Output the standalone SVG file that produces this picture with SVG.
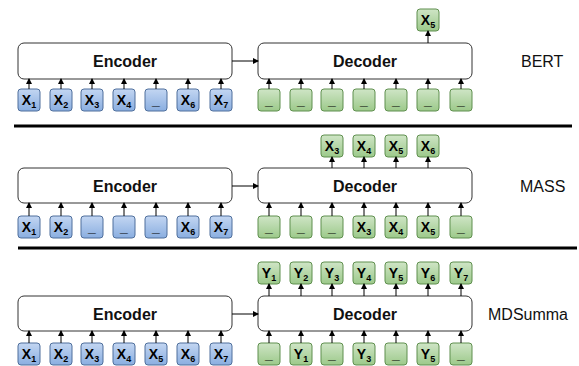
<svg xmlns="http://www.w3.org/2000/svg" width="579" height="366" viewBox="0 0 579 366">
<defs>
<linearGradient id="gb" x1="0" y1="0" x2="0" y2="1"><stop offset="0" stop-color="#c3d6f2"/><stop offset="1" stop-color="#8aaee0"/></linearGradient>
<linearGradient id="gg" x1="0" y1="0" x2="0" y2="1"><stop offset="0" stop-color="#cfe5c6"/><stop offset="1" stop-color="#9cc98a"/></linearGradient>
<marker id="ah" markerWidth="6" markerHeight="6" refX="5" refY="3" orient="auto" markerUnits="userSpaceOnUse"><path d="M0,0 L6,3 L0,6 Z" fill="#000"/></marker>
</defs>
<style>
.box{fill:#fff;stroke:#333;stroke-width:1}
.tb{fill:url(#gb);stroke:#4f6f9c;stroke-width:1}
.tg{fill:url(#gg);stroke:#5f8f4e;stroke-width:1}
.bt{font-family:"Liberation Sans",Arial,sans-serif;font-size:16px;font-weight:bold;text-anchor:middle;fill:#111}
.tk{font-family:"Liberation Sans",Arial,sans-serif;font-size:14px;font-weight:bold;text-anchor:middle;fill:#000}
.sub{font-size:9px}
.lb{font-family:"Liberation Sans",Arial,sans-serif;font-size:16px;fill:#111}
.c{stroke:#000;stroke-width:1;fill:none;marker-end:url(#ah)}
.div{stroke:#000;stroke-width:3}
</style>
<line class="div" x1="14" y1="126" x2="572" y2="126"/>
<line class="div" x1="18" y1="248" x2="577" y2="248"/>
<g id="bert">
<g id="bert-enc"><rect class="box" x="18" y="43" width="214" height="36" rx="6"/><text class="bt" x="125" y="67">Encoder</text></g>
<g id="bert-dec"><rect class="box" x="258" y="43" width="214" height="36" rx="6"/><text class="bt" x="365" y="67">Decoder</text></g>
<g id="bert-ein">
<rect class="tb" x="18" y="89" width="22" height="22" rx="3"/><text class="tk" x="29" y="105">X<tspan class="sub" dy="2.5">1</tspan></text>
<rect class="tb" x="50" y="89" width="22" height="22" rx="3"/><text class="tk" x="61" y="105">X<tspan class="sub" dy="2.5">2</tspan></text>
<rect class="tb" x="81" y="89" width="22" height="22" rx="3"/><text class="tk" x="92" y="105">X<tspan class="sub" dy="2.5">3</tspan></text>
<rect class="tb" x="113" y="89" width="22" height="22" rx="3"/><text class="tk" x="124" y="105">X<tspan class="sub" dy="2.5">4</tspan></text>
<rect class="tb" x="145" y="89" width="22" height="22" rx="3"/><text class="tk" x="156" y="105">_</text>
<rect class="tb" x="177" y="89" width="22" height="22" rx="3"/><text class="tk" x="188" y="105">X<tspan class="sub" dy="2.5">6</tspan></text>
<rect class="tb" x="210" y="89" width="22" height="22" rx="3"/><text class="tk" x="221" y="105">X<tspan class="sub" dy="2.5">7</tspan></text>
</g>
<g id="bert-din">
<rect class="tg" x="258" y="89" width="22" height="22" rx="3"/><text class="tk" x="269" y="105">_</text>
<rect class="tg" x="290" y="89" width="22" height="22" rx="3"/><text class="tk" x="301" y="105">_</text>
<rect class="tg" x="321" y="89" width="22" height="22" rx="3"/><text class="tk" x="332" y="105">_</text>
<rect class="tg" x="353" y="89" width="22" height="22" rx="3"/><text class="tk" x="364" y="105">_</text>
<rect class="tg" x="385" y="89" width="22" height="22" rx="3"/><text class="tk" x="396" y="105">_</text>
<rect class="tg" x="417" y="89" width="22" height="22" rx="3"/><text class="tk" x="428" y="105">_</text>
<rect class="tg" x="450" y="89" width="22" height="22" rx="3"/><text class="tk" x="461" y="105">_</text>
</g>
<g id="bert-out"><rect class="tg" x="417" y="9" width="22" height="22" rx="3"/><text class="tk" x="428" y="25">X<tspan class="sub" dy="2.5">5</tspan></text></g>
<text class="lb" x="521" y="67">BERT</text>
</g>
<g id="mass">
<g id="mass-enc"><rect class="box" x="18" y="168" width="214" height="35" rx="6"/><text class="bt" x="125" y="191.5">Encoder</text></g>
<g id="mass-dec"><rect class="box" x="258" y="168" width="214" height="35" rx="6"/><text class="bt" x="365" y="191.5">Decoder</text></g>
<g id="mass-ein">
<rect class="tb" x="18" y="216" width="22" height="22" rx="3"/><text class="tk" x="29" y="232">X<tspan class="sub" dy="2.5">1</tspan></text>
<rect class="tb" x="50" y="216" width="22" height="22" rx="3"/><text class="tk" x="61" y="232">X<tspan class="sub" dy="2.5">2</tspan></text>
<rect class="tb" x="81" y="216" width="22" height="22" rx="3"/><text class="tk" x="92" y="232">_</text>
<rect class="tb" x="113" y="216" width="22" height="22" rx="3"/><text class="tk" x="124" y="232">_</text>
<rect class="tb" x="145" y="216" width="22" height="22" rx="3"/><text class="tk" x="156" y="232">_</text>
<rect class="tb" x="177" y="216" width="22" height="22" rx="3"/><text class="tk" x="188" y="232">X<tspan class="sub" dy="2.5">6</tspan></text>
<rect class="tb" x="210" y="216" width="22" height="22" rx="3"/><text class="tk" x="221" y="232">X<tspan class="sub" dy="2.5">7</tspan></text>
</g>
<g id="mass-din">
<rect class="tg" x="258" y="216" width="22" height="22" rx="3"/><text class="tk" x="269" y="232">_</text>
<rect class="tg" x="290" y="216" width="22" height="22" rx="3"/><text class="tk" x="301" y="232">_</text>
<rect class="tg" x="321" y="216" width="22" height="22" rx="3"/><text class="tk" x="332" y="232">_</text>
<rect class="tg" x="353" y="216" width="22" height="22" rx="3"/><text class="tk" x="364" y="232">X<tspan class="sub" dy="2.5">3</tspan></text>
<rect class="tg" x="385" y="216" width="22" height="22" rx="3"/><text class="tk" x="396" y="232">X<tspan class="sub" dy="2.5">4</tspan></text>
<rect class="tg" x="417" y="216" width="22" height="22" rx="3"/><text class="tk" x="428" y="232">X<tspan class="sub" dy="2.5">5</tspan></text>
<rect class="tg" x="450" y="216" width="22" height="22" rx="3"/><text class="tk" x="461" y="232">_</text>
</g>
<g id="mass-out">
<rect class="tg" x="321" y="135" width="22" height="22" rx="3"/><text class="tk" x="332" y="151">X<tspan class="sub" dy="2.5">3</tspan></text>
<rect class="tg" x="353" y="135" width="22" height="22" rx="3"/><text class="tk" x="364" y="151">X<tspan class="sub" dy="2.5">4</tspan></text>
<rect class="tg" x="385" y="135" width="22" height="22" rx="3"/><text class="tk" x="396" y="151">X<tspan class="sub" dy="2.5">5</tspan></text>
<rect class="tg" x="417" y="135" width="22" height="22" rx="3"/><text class="tk" x="428" y="151">X<tspan class="sub" dy="2.5">6</tspan></text>
</g>
<text class="lb" x="520" y="192">MASS</text>
</g>
<g id="mdsumma">
<g id="md-enc"><rect class="box" x="18" y="296" width="214" height="35" rx="6"/><text class="bt" x="125" y="319.5">Encoder</text></g>
<g id="md-dec"><rect class="box" x="258" y="296" width="214" height="35" rx="6"/><text class="bt" x="365" y="319.5">Decoder</text></g>
<g id="md-ein">
<rect class="tb" x="18" y="343" width="22" height="22" rx="3"/><text class="tk" x="29" y="359">X<tspan class="sub" dy="2.5">1</tspan></text>
<rect class="tb" x="50" y="343" width="22" height="22" rx="3"/><text class="tk" x="61" y="359">X<tspan class="sub" dy="2.5">2</tspan></text>
<rect class="tb" x="81" y="343" width="22" height="22" rx="3"/><text class="tk" x="92" y="359">X<tspan class="sub" dy="2.5">3</tspan></text>
<rect class="tb" x="113" y="343" width="22" height="22" rx="3"/><text class="tk" x="124" y="359">X<tspan class="sub" dy="2.5">4</tspan></text>
<rect class="tb" x="145" y="343" width="22" height="22" rx="3"/><text class="tk" x="156" y="359">X<tspan class="sub" dy="2.5">5</tspan></text>
<rect class="tb" x="177" y="343" width="22" height="22" rx="3"/><text class="tk" x="188" y="359">X<tspan class="sub" dy="2.5">6</tspan></text>
<rect class="tb" x="210" y="343" width="22" height="22" rx="3"/><text class="tk" x="221" y="359">X<tspan class="sub" dy="2.5">7</tspan></text>
</g>
<g id="md-din">
<rect class="tg" x="258" y="343" width="22" height="22" rx="3"/><text class="tk" x="269" y="359">_</text>
<rect class="tg" x="290" y="343" width="22" height="22" rx="3"/><text class="tk" x="301" y="359">Y<tspan class="sub" dy="2.5">1</tspan></text>
<rect class="tg" x="321" y="343" width="22" height="22" rx="3"/><text class="tk" x="332" y="359">_</text>
<rect class="tg" x="353" y="343" width="22" height="22" rx="3"/><text class="tk" x="364" y="359">Y<tspan class="sub" dy="2.5">3</tspan></text>
<rect class="tg" x="385" y="343" width="22" height="22" rx="3"/><text class="tk" x="396" y="359">_</text>
<rect class="tg" x="417" y="343" width="22" height="22" rx="3"/><text class="tk" x="428" y="359">Y<tspan class="sub" dy="2.5">5</tspan></text>
<rect class="tg" x="450" y="343" width="22" height="22" rx="3"/><text class="tk" x="461" y="359">_</text>
</g>
<g id="md-out">
<rect class="tg" x="258" y="262" width="22" height="22" rx="3"/><text class="tk" x="269" y="278">Y<tspan class="sub" dy="2.5">1</tspan></text>
<rect class="tg" x="290" y="262" width="22" height="22" rx="3"/><text class="tk" x="301" y="278">Y<tspan class="sub" dy="2.5">2</tspan></text>
<rect class="tg" x="321" y="262" width="22" height="22" rx="3"/><text class="tk" x="332" y="278">Y<tspan class="sub" dy="2.5">3</tspan></text>
<rect class="tg" x="353" y="262" width="22" height="22" rx="3"/><text class="tk" x="364" y="278">Y<tspan class="sub" dy="2.5">4</tspan></text>
<rect class="tg" x="385" y="262" width="22" height="22" rx="3"/><text class="tk" x="396" y="278">Y<tspan class="sub" dy="2.5">5</tspan></text>
<rect class="tg" x="417" y="262" width="22" height="22" rx="3"/><text class="tk" x="428" y="278">Y<tspan class="sub" dy="2.5">6</tspan></text>
<rect class="tg" x="450" y="262" width="22" height="22" rx="3"/><text class="tk" x="461" y="278">Y<tspan class="sub" dy="2.5">7</tspan></text>
</g>
<text class="lb" x="488" y="320">MDSumma</text>
</g>
<g id="connectors">
<path class="c" d="M232,61 H258"/>
<path class="c" d="M232,186 H258"/>
<path class="c" d="M232,314 H258"/>
<path class="c" d="M29,89 V79"/><path class="c" d="M61,89 V79"/><path class="c" d="M92,89 V79"/><path class="c" d="M124,89 V79"/><path class="c" d="M156,89 V79"/><path class="c" d="M188,89 V79"/><path class="c" d="M221,89 V79"/>
<path class="c" d="M269,89 V79"/><path class="c" d="M301,89 V79"/><path class="c" d="M332,89 V79"/><path class="c" d="M364,89 V79"/><path class="c" d="M396,89 V79"/><path class="c" d="M428,89 V79"/><path class="c" d="M461,89 V79"/>
<path class="c" d="M428,43 V31"/>
<path class="c" d="M29,216 V203"/><path class="c" d="M61,216 V203"/><path class="c" d="M92,216 V203"/><path class="c" d="M124,216 V203"/><path class="c" d="M156,216 V203"/><path class="c" d="M188,216 V203"/><path class="c" d="M221,216 V203"/>
<path class="c" d="M269,216 V203"/><path class="c" d="M301,216 V203"/><path class="c" d="M332,216 V203"/><path class="c" d="M364,216 V203"/><path class="c" d="M396,216 V203"/><path class="c" d="M428,216 V203"/><path class="c" d="M461,216 V203"/>
<path class="c" d="M332,168 V157"/><path class="c" d="M364,168 V157"/><path class="c" d="M396,168 V157"/><path class="c" d="M428,168 V157"/>
<path class="c" d="M29,343 V331"/><path class="c" d="M61,343 V331"/><path class="c" d="M92,343 V331"/><path class="c" d="M124,343 V331"/><path class="c" d="M156,343 V331"/><path class="c" d="M188,343 V331"/><path class="c" d="M221,343 V331"/>
<path class="c" d="M269,343 V331"/><path class="c" d="M301,343 V331"/><path class="c" d="M332,343 V331"/><path class="c" d="M364,343 V331"/><path class="c" d="M396,343 V331"/><path class="c" d="M428,343 V331"/><path class="c" d="M461,343 V331"/>
<path class="c" d="M269,296 V284"/><path class="c" d="M301,296 V284"/><path class="c" d="M332,296 V284"/><path class="c" d="M364,296 V284"/><path class="c" d="M396,296 V284"/><path class="c" d="M428,296 V284"/><path class="c" d="M461,296 V284"/>
</g>
</svg>
